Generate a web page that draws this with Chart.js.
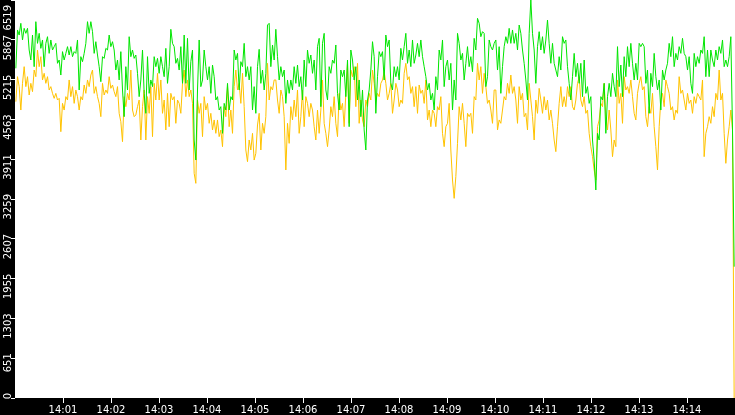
<!DOCTYPE html>
<html>
<head>
<meta charset="utf-8">
<script src="https://cdn.jsdelivr.net/npm/chart.js@4/dist/chart.umd.min.js"></script>
<style>
html,body{margin:0;padding:0;background:#000;overflow:hidden}
#wrap{width:735px;height:415px;position:relative}
</style>
</head>
<body>
<div id="wrap"><canvas id="c"></canvas></div>
<script>
// Time axis: seconds after 14:00:00
const xRangeSeconds = [0, 900];
const xTickSeconds = [60, 120, 180, 240, 300, 360, 420, 480, 540, 600, 660, 720, 780, 840];
const xTickLabels = ['14:01','14:02','14:03','14:04','14:05','14:06','14:07','14:08','14:09','14:10','14:11','14:12','14:13','14:14'];

// Value axis
const yRange = [0, 6519];
const yTickValues = [0, 651.9, 1303.8, 1955.7, 2607.6, 3259.5, 3911.4, 4563.3, 5215.2, 5867.1, 6519];
const yTickLabels = ['0','651','1303','1955','2607','3259','3911','4563','5215','5867','6519'];

// Green series (~2 s samples)
const greenValues = [
5400,6028,5945,6137,5864,6055,5973,6055,5700,5536,5945,5427,6164,5809,5973,5727,5864,5427,5809,5918,
5645,5864,5700,5755,5809,5482,5536,5290,5673,5536,5645,5755,5618,5755,5591,5673,5645,5864,5045,5591,
5509,5645,5809,6164,5973,6164,6000,5645,5836,5618,5427,5181,5591,5563,5727,5700,5945,5755,5836,5700,
5372,5536,5209,5673,5045,4608,5427,5045,5918,5591,5700,5563,
5618,5318,4936,5209,5700,4990,4663,5591,4990,5209,5100,5591,5427,5563,5318,5591,5427,5263,5727,5154,
5427,6039,5809,5755,5482,5563,5372,5755,5154,5945,5154,5891,5045,5509,5700,4226,3898,5045,5864,5100,
5209,5700,5427,5209,5427,4990,5454,5263,4881,4936,4717,4772,4335,4826,4717,5154,4717,4936,4881,5700,
5536,5645,5045,5509,5427,5809,5263,5427,5209,5427,4717,5100,
4663,5427,5711,5154,5372,5045,5318,6109,6137,5427,5782,5536,6039,5591,5209,5427,5263,5372,4826,5209,
4990,5209,5045,5427,5154,5454,5100,5263,4881,5536,5100,5700,5482,5618,5318,5536,5045,5755,5891,4772,
5809,5973,5045,4881,5427,5318,5536,5482,5782,4990,4717,5372,5263,5372,4936,5536,4444,5700,5536,5209,
5427,4881,5209,4608,5045,4390,4062,4881,5045,5372,5836,5591,
4663,5263,5673,5591,5673,5209,5945,5755,5864,5154,5045,5427,5263,5427,5209,5727,5536,5755,5973,5482,
5700,5427,5864,5482,5618,5809,5591,5864,5591,5427,5263,5045,5154,4881,4990,4717,5263,5045,5700,5536,
5864,5100,5427,5536,5209,5482,4717,5209,4881,5973,5809,5536,5645,5209,5482,5755,5427,5591,5345,5891,
5700,6219,6137,5918,6000,5973,5100,5263,5864,5755,5700,5809,
5864,5372,5755,4990,5427,5755,5918,5809,6055,5809,6028,5809,5973,5700,6109,5973,5700,5482,5209,4881,
5973,6519,5973,5700,5154,5755,6000,5700,5918,5645,5864,6191,5809,5482,5809,5482,5372,5263,5591,5372,
5918,5809,5864,5427,5154,4881,5263,5645,5263,5482,5154,5482,4936,5536,4990,5100,4826,4936,4226,3898,
3407,4335,4226,4936,4881,5154,4335,4936,5154,4936,5318,5100,
4936,5755,5100,5454,4936,5591,5263,5755,5427,5809,5482,5209,5482,5209,5809,5755,5809,5755,5154,5372,
4663,5318,5100,5645,5263,5045,5209,4717,5372,5209,5372,5482,5809,5591,5918,5427,5645,5536,5755,5645,
5891,5645,5591,5372,5591,5154,4990,5645,5427,5591,5482,5700,5645,5918,5263,5700,5263,5700,5536,5427,
5700,5536,5755,5645,5864,5427,5536,5427,5591,5918,4390,2151
];

// Orange series (~2 s samples)
const orangeValues = [
4854,5263,5100,4717,5154,5427,5100,5263,4963,5154,5018,5372,5263,5700,5427,5591,5209,5318,5154,5263,
5045,5100,4990,4908,4990,4881,4908,4362,4826,4717,4936,4881,5209,4936,5100,4826,5045,4936,4717,4936,
4881,5127,4990,5209,5100,5290,5372,4990,5100,4936,4826,4608,5154,4963,5045,4990,5263,5072,5127,5018,
4936,5100,4663,4526,4199,4936,4772,4990,4881,5372,4717,4608,
4636,4772,4881,4226,4772,5045,4226,4936,4663,5100,4281,5154,4881,5318,4881,5209,4663,4881,4390,4990,
4444,4990,4881,4936,4499,4881,4826,4663,5154,5372,4936,5209,4936,5045,4826,3680,3516,4881,4663,4826,
4281,4936,4717,4826,4499,4663,4390,4554,4335,4554,4281,4390,4117,4772,4608,5100,4444,4717,4335,5100,
5372,5045,5154,4826,5318,4772,4062,3871,4226,4062,4335,3898,
4008,4472,4663,4062,4499,4335,4608,5482,4881,5100,5045,5209,5209,4881,4663,5045,4936,4608,3735,4499,
4171,4772,4554,4881,4608,5045,4335,4608,5045,4444,4936,4826,4608,4826,4717,4444,4226,4717,4335,4717,
5209,4499,4335,4117,4390,4772,4608,4936,4499,4281,4990,4717,4826,4444,4990,5482,4499,5372,5263,5427,
4772,5482,4499,4881,4554,4444,4881,4772,4990,4881,5372,5154,
4881,4990,4936,5154,5209,5345,5154,4881,4990,5154,4663,4881,5154,5045,4772,4881,4826,5318,5482,5209,
5263,4990,5100,4772,5100,4663,5127,4990,5045,4826,5209,4554,4717,4444,4717,4663,4444,4772,4717,4936,
4335,4117,4444,4499,4826,4062,3571,3270,3626,4171,4772,4554,4826,4499,4117,4663,4608,4663,4335,4936,
4881,5482,5209,5427,4990,5318,5100,4826,4881,4717,4499,5045,
5045,4390,4554,4499,4717,4936,4881,5154,4990,5290,4990,5100,4881,4499,5100,4881,4990,4608,4663,4390,
5154,4881,4608,4226,4881,4663,5072,4881,4663,4936,4717,4881,4554,4717,4499,4226,4035,4444,4826,5100,
4772,4936,4772,5100,4936,5100,4772,4717,4881,5154,5263,4881,4772,4936,4663,4717,4335,4117,3953,3735,
3571,4444,4554,4826,4772,5154,4608,4390,4717,4390,3953,4226,
4117,5209,4826,4990,4499,5263,5045,5100,4990,5209,4936,4663,4554,4990,5154,5263,5045,5100,4608,4444,
4772,4663,4990,4444,4117,3735,4444,4881,4990,4772,5209,5100,4990,4717,4772,4554,4717,4663,5263,4990,
5045,4881,4717,4990,4826,4881,4663,4936,4826,4990,4936,4881,5209,3953,4335,4444,4608,4499,4772,4608,
4990,4881,5372,4881,4990,4335,3844,4226,4444,4717,4390,0
];

// sample instants (seconds), evenly spread over the 15 minutes
const sampleSeconds = greenValues.map((_, i) => (i + 0.5) * (xRangeSeconds[1] - xRangeSeconds[0]) / greenValues.length);

const framePlugin = {
  id: 'frame',
  beforeDraw(chart) {
    const { ctx, chartArea: a } = chart;
    ctx.save();
    ctx.fillStyle = '#000';
    ctx.fillRect(0, 0, chart.width, chart.height);
    ctx.fillStyle = '#fff';
    ctx.fillRect(a.left, a.top, a.right - a.left, a.bottom - a.top);
    ctx.restore();
  }
};

new Chart(document.getElementById('c'), {
  type: 'line',
  data: {
    labels: sampleSeconds,
    datasets: [
      { label: 'green', data: greenValues, borderColor: '#00e600', borderWidth: 1, pointRadius: 0, tension: 0, fill: false },
      { label: 'orange', data: orangeValues, borderColor: '#ffc300', borderWidth: 1, pointRadius: 0, tension: 0, fill: false }
    ]
  },
  options: {
    responsive: true,
    maintainAspectRatio: false,
    animation: false,
    layout: { padding: 0 },
    plugins: { legend: { display: false }, tooltip: { enabled: false } },
    scales: {
      x: {
        type: 'linear',
        min: xRangeSeconds[0],
        max: xRangeSeconds[1],
        border: { display: false },
        grid: { drawOnChartArea: false, drawTicks: true, tickLength: 5, tickColor: '#fff', tickWidth: 1 },
        ticks: {
          color: '#fff', font: { family: 'DejaVu Sans', size: 10 }, padding: 1,
          maxRotation: 0, minRotation: 0, autoSkip: false,
          callback: (v, i) => xTickLabels[i]
        },
        afterBuildTicks: s => { s.ticks = xTickSeconds.map(v => ({ value: v })); },
        afterFit: s => { s.height = 17; s.paddingLeft = 0; s.paddingRight = 0; }
      },
      y: {
        type: 'linear',
        min: yRange[0],
        max: yRange[1],
        border: { display: false },
        grid: { drawOnChartArea: false, drawTicks: true, tickLength: 4, tickColor: '#fff', tickWidth: 1 },
        ticks: {
          color: '#fff', font: { family: 'DejaVu Sans', size: 10 }, padding: 3,
          minRotation: 90, maxRotation: 90, autoSkip: false, labelOffset: -5,
          // the top label is nudged down (trailing en spaces) so it stays inside the canvas
          callback: (v, i) => (i === yTickLabels.length - 1 ? yTickLabels[i] + '\u2002\u2002' : yTickLabels[i])
        },
        afterBuildTicks: s => { s.ticks = yTickValues.map(v => ({ value: v })); },
        afterFit: s => { s.width = 15; s.paddingTop = 0; s.paddingBottom = 0; }
      }
    }
  },
  plugins: [framePlugin]
});
</script>
</body>
</html>
